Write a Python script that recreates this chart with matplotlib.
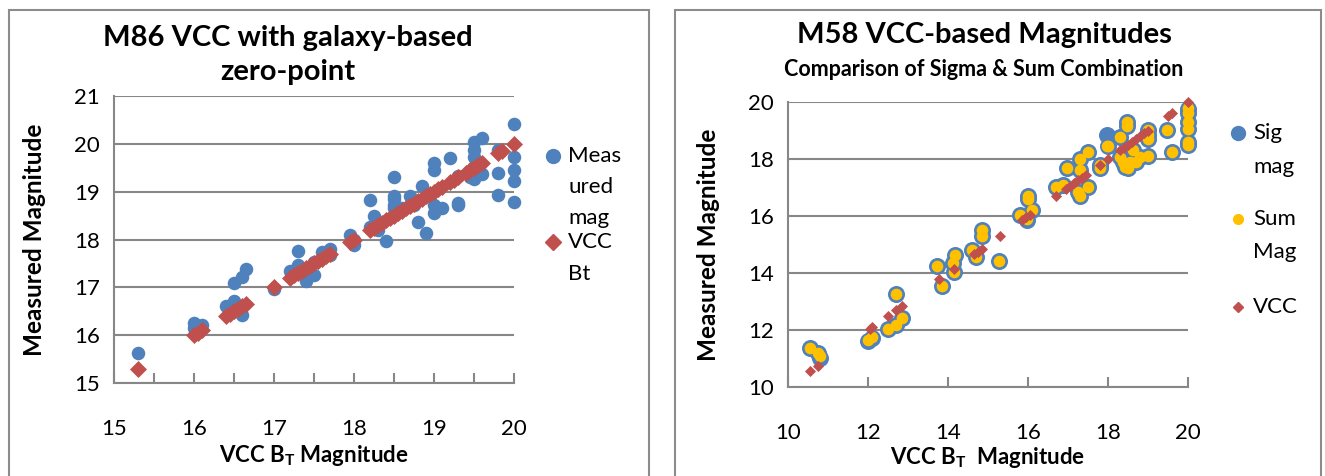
import numpy as np
import matplotlib
matplotlib.use("Agg")
import matplotlib.pyplot as plt
from matplotlib.lines import Line2D
from matplotlib.patches import Rectangle

plt.rcParams['font.family'] = ['Lato', 'DejaVu Sans']

# ---- M86: measured magnitude vs VCC Bt ----
m86_bt = [15.3, 16.0, 16.0, 16.1, 16.05, 16.4, 16.45, 16.5, 16.5, 16.6, 16.65, 16.6, 16.55,
          17.0, 17.2, 17.3, 17.3, 17.4, 17.5, 17.5, 17.6, 17.7, 17.7, 17.95, 18.0, 18.0,
          18.2, 18.25, 18.2, 18.3, 18.4, 18.5, 18.5, 18.5, 18.5, 18.5, 18.6, 18.7, 18.75,
          18.85, 18.8, 18.9, 19.0, 19.0, 19.0, 19.0, 19.1, 19.2, 19.3, 19.3, 19.3,
          19.5, 19.5, 19.5, 19.5, 19.45, 19.5, 19.6, 19.6, 19.8, 19.8, 19.8,
          20.0, 20.0, 20.0, 20.0, 20.0]
m86_meas = [15.63, 16.26, 16.15, 16.21, 16.18, 16.61, 16.6, 16.72, 17.09, 17.22, 17.38, 16.42, 16.55,
            16.96, 17.34, 17.76, 17.47, 17.13, 17.26, 17.53, 17.74, 17.8, 17.68, 18.1, 17.88, 18.0,
            18.83, 18.5, 18.26, 18.2, 17.97, 19.31, 18.91, 18.84, 18.72, 18.66, 18.66, 18.91, 18.72,
            19.12, 18.37, 18.13, 19.6, 19.45, 18.72, 18.56, 18.66, 19.7, 19.33, 18.72, 18.77,
            20.04, 19.87, 19.72, 19.52, 19.31, 19.27, 20.12, 19.37, 19.87, 19.39, 18.93,
            20.42, 19.73, 19.45, 19.23, 18.79]
m86_vcc = [15.3, 16.0, 16.05, 16.1, 16.4, 16.45, 16.5, 16.55, 16.6, 16.65, 17.0, 17.2, 17.25,
           17.3, 17.35, 17.4, 17.45, 17.5, 17.55, 17.6, 17.65, 17.7, 17.95, 18.0, 18.2, 18.25,
           18.3, 18.35, 18.4, 18.45, 18.5, 18.55, 18.6, 18.65, 18.7, 18.75, 18.8, 18.85, 18.9,
           18.95, 19.0, 19.05, 19.1, 19.2, 19.25, 19.3, 19.4, 19.45, 19.5, 19.55, 19.6, 19.8,
           19.85, 20.0]

# ---- M58: sigma and sum combined magnitudes vs VCC Bt ----
m58_bt = [10.55, 10.75, 10.8, 12.0, 12.1, 12.5, 12.7, 12.85, 12.7, 13.72, 13.85, 14.13, 14.18,
          14.15, 14.6, 14.71, 14.85, 14.85, 15.28, 15.8, 15.97, 16.1, 16.0, 16.0, 16.7, 16.88,
          16.98, 17.25, 17.3, 17.3, 17.5, 17.5, 17.3, 17.8, 17.8, 17.97, 18.0, 18.3, 18.47,
          18.47, 18.3, 18.42, 18.55, 18.63, 18.8, 18.7, 18.38, 18.5, 19.0, 19.0, 19.0, 19.0,
          19.48, 19.6, 20.0, 20.0, 20.0, 20.0, 20.0, 20.0]
m58_sig = [11.37, 11.19, 11.02, 11.62, 11.72, 12.03, 12.18, 12.43, 13.26, 14.24, 13.54, 14.35, 14.63,
           14.04, 14.8, 14.56, 15.5, 15.3, 14.42, 16.04, 15.86, 16.2, 16.7, 16.58, 17.02, 17.1,
           17.68, 16.84, 17.6, 18.0, 18.25, 17.02, 16.7, 17.68, 17.8, 18.84, 18.45, 18.77, 19.3,
           19.15, 18.07, 17.72, 17.9, 18.3, 18.07, 17.9, 17.9, 17.7, 19.02, 18.7, 18.12, 18.85,
           19.02, 18.25, 19.75, 19.6, 19.3, 19.04, 18.6, 18.5]
m58_sum = [11.37, 11.19, 11.08, 11.65, 11.75, 12.03, 12.18, 12.43, 13.26, 14.24, 13.54, 14.35, 14.63,
           14.04, 14.8, 14.56, 15.5, 15.3, 14.42, 16.04, 15.9, 16.2, 16.7, 16.58, 17.02, 17.1,
           17.68, 16.84, 17.6, 18.0, 18.25, 17.02, 16.7, 17.68, 17.8, 18.45, 18.45, 18.77, 19.3,
           19.15, 18.07, 17.72, 17.9, 18.3, 18.07, 17.9, 17.9, 17.7, 19.02, 18.7, 18.12, 18.85,
           19.02, 18.25, 19.8, 19.6, 19.3, 19.04, 18.6, 18.5]
m58_vcc = [10.55, 10.75, 12.05, 12.1, 12.5, 12.7, 12.85, 13.78, 14.15, 14.65, 14.75, 14.85, 15.3,
           15.85, 15.95, 16.05, 16.7, 16.95, 17.05, 17.15, 17.25, 17.35, 17.45, 17.8, 18.0, 18.3,
           18.4, 18.5, 18.6, 18.7, 18.8, 18.9, 19.0, 19.5, 19.6, 20.0]

BLUE = '#4F81BD'
RED = '#C0504D'
GOLD = '#FFC000'
GRID = '#878787'

W, H = 1325, 476
fig = plt.figure(figsize=(W / 100, H / 100), dpi=100)


def fx(px):
    return px / W


def fy(py):
    return 1 - py / H


def style_axes(ax):
    for s in ['top', 'right']:
        ax.spines[s].set_visible(False)
    for s in ['left', 'bottom']:
        ax.spines[s].set_color(GRID)
        ax.spines[s].set_linewidth(1.5)
    ax.grid(axis='y', color=GRID, linewidth=1.5)
    ax.set_axisbelow(True)
    ax.tick_params(axis='y', length=0, labelsize=16, pad=10)
    ax.tick_params(axis='x', which='both', direction='in', color=GRID, width=1.5,
                   labelsize=16, pad=26, length=7)


# chart frames
for x0, x1 in [(9, 649), (675, 1321)]:
    fig.add_artist(Rectangle((fx(x0), fy(500)), fx(x1) - fx(x0), fy(10) - fy(500),
                             transform=fig.transFigure, fill=False, edgecolor='#8c8c8c',
                             linewidth=1.5, clip_on=False))

# left chart
ax1 = fig.add_axes([fx(114), fy(383), fx(514) - fx(114), fy(96) - fy(383)])
ax1.scatter(m86_bt, m86_meas, s=95, color=BLUE, zorder=3, linewidths=0, clip_on=False)
ax1.scatter(m86_vcc, m86_vcc, s=75, marker='D', color=RED, zorder=4, linewidths=0, clip_on=False)
ax1.set_xlim(15, 20)
ax1.set_ylim(15, 21)
ax1.set_xticks(np.arange(15, 20.1, 1))
ax1.set_xticks(np.arange(15.5, 20, 1), minor=True)
ax1.set_yticks(np.arange(15, 21.1, 1))
style_axes(ax1)
ax1.set_xlabel('VCC B$_\\mathregular{T}$ Magnitude', fontsize=16, fontweight='bold', labelpad=3)
ax1.set_ylabel('Measured Magnitude', fontsize=17.5, fontweight='bold', labelpad=20)
fig.text(fx(288), fy(55), 'M86 VCC with galaxy-based\nzero-point', ha='center', va='center',
         fontsize=21, fontweight='bold', linespacing=1.4)

# right chart
ax2 = fig.add_axes([fx(788), fy(387), fx(1188) - fx(788), fy(102) - fy(387)])
ax2.scatter(m58_bt, m58_sig, s=150, color=BLUE, zorder=3, linewidths=0, clip_on=False)
ax2.scatter(m58_bt, m58_sum, s=70, color=GOLD, zorder=4, linewidths=0, clip_on=False)
ax2.scatter(m58_vcc, m58_vcc, s=32, marker='D', color=RED, zorder=5, linewidths=0, clip_on=False)
ax2.set_xlim(10, 20)
ax2.set_ylim(10, 20)
ax2.set_xticks(np.arange(10, 20.1, 2))
ax2.set_yticks(np.arange(10, 20.1, 2))
style_axes(ax2)
ax2.set_xlabel('VCC B$_\\mathregular{T}$  Magnitude', fontsize=16, fontweight='bold', labelpad=1)
ax2.set_ylabel('Measured Magnitude', fontsize=17.5, fontweight='bold', labelpad=20)
fig.text(fx(984), fy(35), 'M58 VCC-based Magnitudes', ha='center', va='center',
         fontsize=21, fontweight='bold')
fig.text(fx(984), fy(69), 'Comparison of Sigma & Sum Combination', ha='center', va='center',
         fontsize=15.5, fontweight='bold')


# legends drawn as figure artists
def legend_entry(px, py, marker, color, size, lines, spacing):
    fig.add_artist(Line2D([fx(px)], [fy(py)], marker=marker, color=color, markersize=size,
                          linestyle='none', transform=fig.transFigure))
    for i, t in enumerate(lines):
        fig.text(fx(px + 15), fy(py + i * spacing), t, ha='left', va='center', fontsize=16)


legend_entry(553, 156, 'o', BLUE, 10, ['Meas', 'ured', 'mag'], 31)
legend_entry(553, 242, 'D', RED, 8, ['VCC', 'Bt'], 32)
legend_entry(1238, 133, 'o', BLUE, 10, ['Sig', 'mag'], 34)
legend_entry(1238, 219, 'o', GOLD, 7, ['Sum', 'Mag'], 33)
legend_entry(1238, 307, 'D', RED, 5.5, ['VCC'], 33)

fig.savefig('out.png', dpi=100)
